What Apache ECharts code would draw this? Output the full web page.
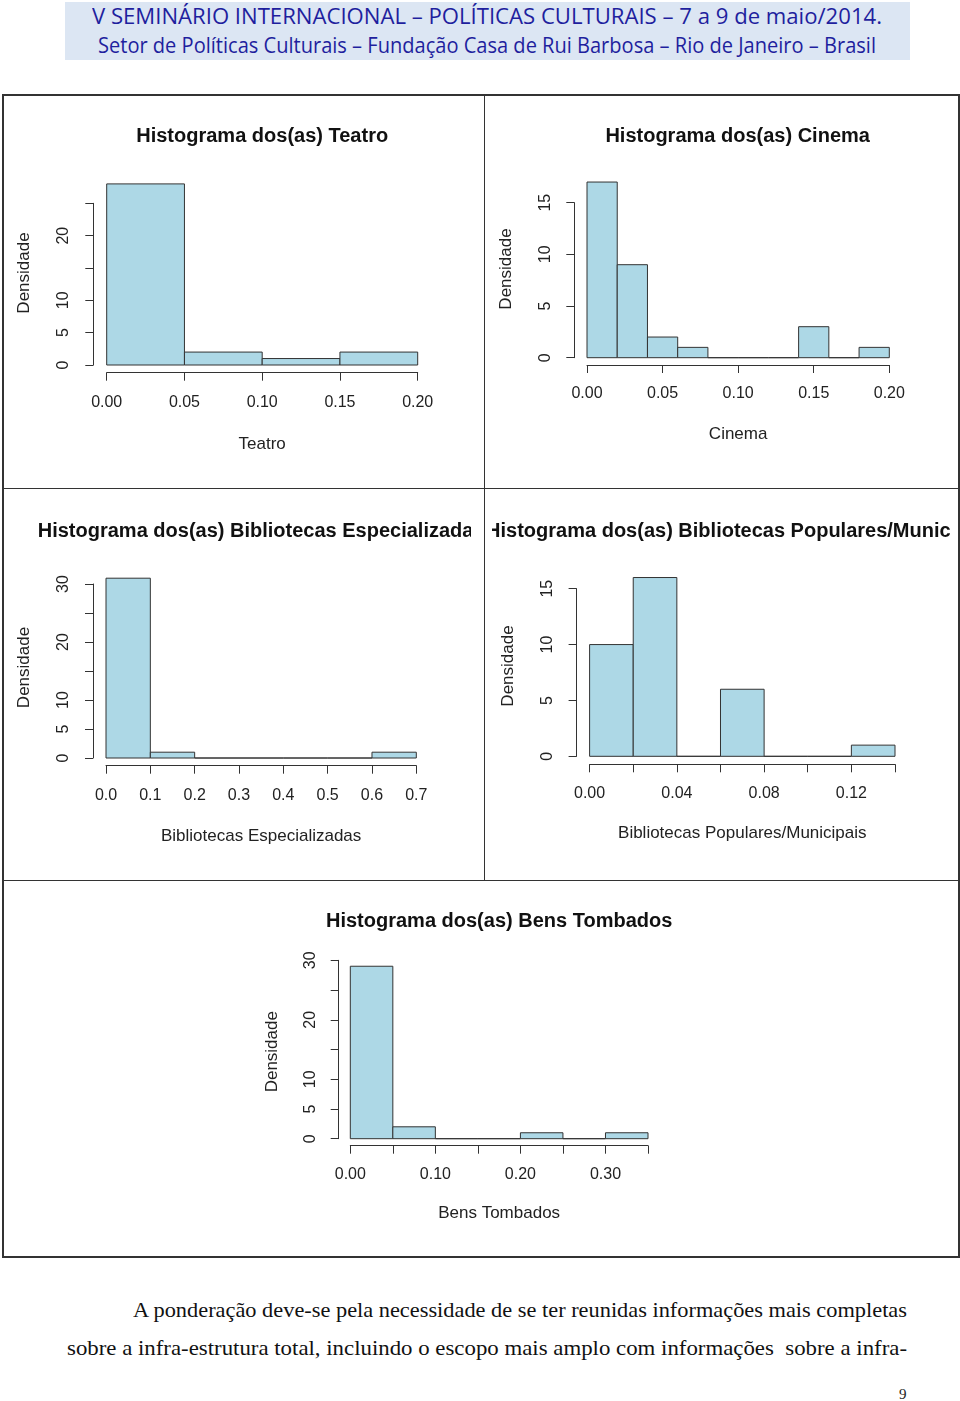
<!DOCTYPE html>
<html><head><meta charset="utf-8">
<script src="https://cdn.jsdelivr.net/npm/echarts@6/dist/echarts.min.js"></script>
<style>
html,body{margin:0;padding:0;background:#fff;}
body{width:960px;height:1401px;position:relative;overflow:hidden;}
.abs{position:absolute;}
.fit{position:absolute;white-space:pre;transform-origin:0 50%;line-height:1;}
.hdr{font-family:"Open Sans",sans-serif;color:#1f1f9e;font-size:21px;}
.par{font-family:"Liberation Serif","Times New Roman",serif;color:#111;font-size:21px;}
.chart{position:absolute;}
.ln{position:absolute;background:#333;}
</style></head><body>
<div class="abs" style="left:65px;top:2px;width:845px;height:58px;background:#dce6f3;"></div>
<div class="fit hdr" data-x="92" data-w="790" data-cy="16">V SEMINÁRIO INTERNACIONAL – POLÍTICAS CULTURAIS – 7 a 9 de maio/2014.</div>
<div class="fit hdr" data-x="98" data-w="778" data-cy="45">Setor de Políticas Culturais – Fundação Casa de Rui Barbosa – Rio de Janeiro – Brasil</div>

<div class="ln" style="left:2px;top:94px;width:958px;height:2px;"></div>
<div class="ln" style="left:2px;top:94px;width:2px;height:1164px;"></div>
<div class="ln" style="left:958px;top:94px;width:2px;height:1164px;"></div>
<div class="ln" style="left:2px;top:1256px;width:958px;height:2px;"></div>
<div class="ln" style="left:2px;top:488px;width:958px;height:1px;"></div>
<div class="ln" style="left:2px;top:880px;width:958px;height:1px;"></div>
<div class="ln" style="left:484px;top:94px;width:1px;height:786px;"></div>

<div id="c1" class="chart"></div>
<div id="c2" class="chart"></div>
<div id="c3" class="chart"></div>
<div id="c4" class="chart"></div>
<div id="c5" class="chart"></div>

<div class="fit par" data-x="133" data-w="774" data-cy="1310">A ponderação deve-se pela necessidade de se ter reunidas informações mais completas</div>
<div class="fit par" data-x="67" data-w="840" data-cy="1348">sobre a infra-estrutura total, incluindo o escopo mais amplo com informações  sobre a infra-</div>
<div class="abs" style="left:899px;top:1386px;font-family:'Liberation Serif',serif;font-size:15px;color:#222;">9</div>

<script>
// ---------------- data ----------------
const teatroBins = [0, 0.05, 0.10, 0.15, 0.20];
const teatroCounts = [28, 2, 1, 2];
const teatroXLabels = [0, 0.05, 0.10, 0.15, 0.20];
const teatroYLabels = [0, 5, 10, 20];

const cinemaBins = [0, 0.02, 0.04, 0.06, 0.08, 0.10, 0.12, 0.14, 0.16, 0.18, 0.20];
const cinemaCounts = [17, 9, 2, 1, 0, 0, 0, 3, 0, 1];
const cinemaXLabels = [0, 0.05, 0.10, 0.15, 0.20];
const cinemaYLabels = [0, 5, 10, 15];

const bibEspBins = [0, 0.1, 0.2, 0.3, 0.4, 0.5, 0.6, 0.7];
const bibEspCounts = [31, 1, 0, 0, 0, 0, 1];
const bibEspXLabels = [0, 0.1, 0.2, 0.3, 0.4, 0.5, 0.6, 0.7];
const bibEspYLabels = [0, 5, 10, 20, 30];

const bibPopBins = [0, 0.02, 0.04, 0.06, 0.08, 0.10, 0.12, 0.14];
const bibPopCounts = [10, 16, 0, 6, 0, 0, 1];
const bibPopXLabels = [0, 0.04, 0.08, 0.12];
const bibPopYLabels = [0, 5, 10, 15];

const bensBins = [0, 0.05, 0.10, 0.15, 0.20, 0.25, 0.30, 0.35];
const bensCounts = [29, 2, 0, 0, 1, 0, 1];
const bensXLabels = [0, 0.10, 0.20, 0.30];
const bensYLabels = [0, 5, 10, 20, 30];

const titles = [
  'Histograma dos(as) Teatro',
  'Histograma dos(as) Cinema',
  'Histograma dos(as) Bibliotecas Especializadas',
  'Histograma dos(as) Bibliotecas Populares/Municipais',
  'Histograma dos(as) Bens Tombados'
];
const xNames = ['Teatro', 'Cinema', 'Bibliotecas Especializadas', 'Bibliotecas Populares/Municipais', 'Bens Tombados'];
const yName = 'Densidade';

// ---------------- layout (page px) ----------------
const panels = [
  {id:'c1', div:[3,97,469,389], x0:106.7, x1:417.7, y0:365, yTop:203.3, yAxisX:93.3, xAxisY:372.7,
   titleY:136.7, xLabY:403, xNameY:444, yLabX:63.3, yNameX:25, yNameCY:273,
   bins:teatroBins, counts:teatroCounts, xl:teatroXLabels, yl:teatroYLabels, xmax:0.20, xint:0.05, ymax:25, dec:2},
  {id:'c2', div:[490,97,461,389], x0:586, x1:889.3, y0:357.7, yTop:202.7, yAxisX:573.3, xAxisY:365,
   titleY:136, xLabY:394, xNameY:434, yLabX:545, yNameX:506, yNameCY:269,
   bins:cinemaBins, counts:cinemaCounts, xl:cinemaXLabels, yl:cinemaYLabels, xmax:0.20, xint:0.05, ymax:15, dec:2},
  {id:'c3', div:[3,490,468,388], x0:106, x1:416.3, y0:758, yTop:584, yAxisX:93, xAxisY:765.7,
   titleY:531, xLabY:796, xNameY:836, yLabX:64, yNameX:25, yNameCY:667.5,
   bins:bibEspBins, counts:bibEspCounts, xl:bibEspXLabels, yl:bibEspYLabels, xmax:0.7, xint:0.1, ymax:30, dec:1},
  {id:'c4', div:[492,490,459,388], x0:587.3, x1:895, y0:756.3, yTop:588.7, yAxisX:574.3, xAxisY:764.3,
   titleY:531, xLabY:793.3, xNameY:833.3, yLabX:545, yNameX:506.7, yNameCY:666,
   bins:bibPopBins, counts:bibPopCounts, xl:bibPopXLabels, yl:bibPopYLabels, xmax:0.14, xint:0.02, ymax:15, dec:2},
  {id:'c5', div:[240,882,520,373], x0:350.3, x1:648, y0:1138.7, yTop:960.3, yAxisX:338.7, xAxisY:1145.7,
   titleY:921.7, xLabY:1175, xNameY:1213.3, yLabX:311, yNameX:272.7, yNameCY:1051.7,
   bins:bensBins, counts:bensCounts, xl:bensXLabels, yl:bensYLabels, xmax:0.35, xint:0.05, ymax:30, dec:2}
];

const FONT = '"Liberation Sans", Arial, sans-serif';
const TXT = '#222';
const AX = '#333';
const HALF = 8;

function fmtFrom(list, dec) {
  return function (v) {
    for (const l of list) if (Math.abs(v - l) < 1e-9) return l.toFixed(dec);
    return '';
  };
}

panels.forEach((p, i) => {
  const el = document.getElementById(p.id);
  const [dl, dt, dw, dh] = p.div;
  el.style.left = dl + 'px'; el.style.top = dt + 'px';
  el.style.width = dw + 'px'; el.style.height = dh + 'px';
  const chart = echarts.init(el, null, {renderer: 'canvas'});
  const data = p.counts.map((c, k) => [p.bins[k], p.bins[k + 1], c]);
  // shift of the y-axis name along the axis (positive = upwards)
  const shift = (p.y0 + p.yTop) / 2 - p.yNameCY;
  const namePad = shift >= 0 ? [0, 0, 0, 2 * shift] : [0, -2 * shift, 0, 0];
  chart.setOption({
    animation: false,
    backgroundColor: 'transparent',
    title: {
      text: titles[i],
      left: (p.x0 + p.x1) / 2 - dl,
      top: p.titleY - dt,
      textAlign: 'center',
      textVerticalAlign: 'middle',
      padding: 0,
      textStyle: {fontFamily: FONT, fontSize: 20, fontWeight: 'bold', color: '#111'}
    },
    grid: {left: p.x0 - dl, top: p.yTop - dt, width: p.x1 - p.x0, height: p.y0 - p.yTop, containLabel: false},
    xAxis: {
      type: 'value', min: 0, max: p.xmax, interval: p.xint,
      offset: p.xAxisY - p.y0,
      axisLine: {show: true, onZero: false, lineStyle: {color: AX, width: 1}},
      axisTick: {show: true, inside: false, length: 8, lineStyle: {color: AX, width: 1}},
      splitLine: {show: false},
      axisLabel: {show: true, margin: p.xLabY - p.xAxisY - HALF, fontFamily: FONT, fontSize: 16, color: TXT,
        formatter: fmtFrom(p.xl, p.dec), showMinLabel: true, showMaxLabel: true, hideOverlap: false},
      name: xNames[i], nameLocation: 'middle', nameGap: p.xNameY - p.xAxisY - HALF,
      nameTextStyle: {fontFamily: FONT, fontSize: 17, color: TXT}
    },
    yAxis: {
      type: 'value', min: 0, max: p.ymax, interval: 5,
      offset: p.x0 - p.yAxisX,
      axisLine: {show: true, onZero: false, lineStyle: {color: AX, width: 1}},
      axisTick: {show: true, inside: false, length: 8, lineStyle: {color: AX, width: 1}},
      splitLine: {show: false},
      axisLabel: {show: true, rotate: 90, margin: p.yAxisX - p.yLabX - HALF, fontFamily: FONT, fontSize: 16, color: TXT,
        formatter: fmtFrom(p.yl, 0), showMinLabel: true, showMaxLabel: true, hideOverlap: false},
      name: yName, nameLocation: 'middle', nameGap: p.yAxisX - p.yNameX - HALF,
      nameTextStyle: {fontFamily: FONT, fontSize: 17, color: TXT, padding: namePad}
    },
    series: [{
      type: 'custom',
      clip: false,
      encode: {x: [0, 1], y: 2},
      data: data,
      renderItem: function (params, api) {
        const a = api.coord([api.value(0), 0]);
        const b = api.coord([api.value(1), api.value(2)]);
        return {
          type: 'rect',
          shape: {x: a[0], y: b[1], width: b[0] - a[0], height: a[1] - b[1]},
          style: {fill: '#add8e6', stroke: '#333', lineWidth: 1}
        };
      }
    }]
  });
});

// fit text lines
document.querySelectorAll('.fit').forEach(el => {
  const x = +el.dataset.x, w = +el.dataset.w, cy = +el.dataset.cy;
  const r = el.getBoundingClientRect();
  const s = w / r.width;
  el.style.left = x + 'px';
  el.style.top = (cy - r.height / 2) + 'px';
  el.style.transform = 'scaleX(' + s + ')';
});
</script>
</body></html>
